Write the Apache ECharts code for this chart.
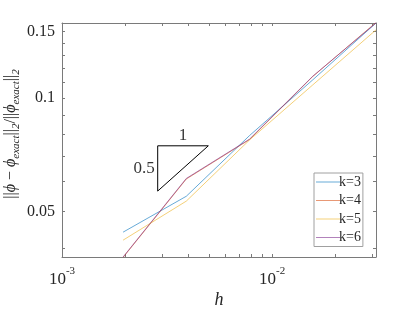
<!DOCTYPE html>
<html>
<head>
<meta charset="utf-8">
<script src="https://cdn.jsdelivr.net/npm/echarts@6/dist/echarts.min.js"></script>
<style>html,body{margin:0;padding:0;background:#fff}#c{width:415px;height:312px}</style>
</head>
<body>
<div id="c"></div>
<script>
// mesh sizes h
const h = [0.001953125, 0.00390625, 0.0078125, 0.015625, 0.03125];
// relative L2 errors for each k
const k3 = [0.0441, 0.0549, 0.0795, 0.1117, 0.158];
const k4 = [0.0378, 0.0610, 0.0776, 0.1140, 0.1585];
const k5 = [0.0420, 0.0533, 0.0774, 0.1083, 0.1515];
const k6 = [0.0379, 0.0612, 0.0778, 0.1142, 0.158];
const seriesNames = ['k=3', 'k=4', 'k=5', 'k=6'];
// tick values
const xTicks = [0.001,0.002,0.003,0.004,0.005,0.006,0.007,0.008,0.009,0.01,0.02,0.03];
const xLabels = [0.001, 0.01];
const yTicks = [0.04,0.05,0.06,0.07,0.08,0.09,0.1,0.11,0.12,0.13,0.14,0.15];
const yLabels = [0.05, 0.1, 0.15];
// slope triangle (run 1, rise 0.5)
const triX = [0.002855, 0.004973];
const triY = [0.05666, 0.07469];

const colors = ['rgba(0,114,189,0.6)','rgba(217,83,25,0.6)','rgba(237,177,32,0.6)','rgba(126,47,142,0.6)'];
const serif = '"Liberation Serif", "DejaVu Serif", serif';
const axisColor = '#7a7a7a';
const textColor = '#262626';

function pairs(ys){ return h.map((x,i)=>[x, ys[i]]); }
const sets = [k3,k4,k5,k6];

const tri = [[triX[0],triY[0]],[triX[0],triY[1]],[triX[1],triY[1]],[triX[0],triY[0]]];
const triLabels = [
  {value:[Math.sqrt(triX[0]*triX[1]), triY[1]], label:{formatter:'1', position:'top', distance:2}},
  {value:[triX[0], Math.sqrt(triY[0]*triY[1])], label:{formatter:'0.5', position:'left', distance:3}}
];

function xfmt(v){
  const e = Math.round(Math.log10(v));
  return '{b|10}{s|' + e + '}';
}

const baseX = {
  type:'log', logBase:10, min:0.001, max:0.03125,
  axisLine:{show:true, onZero:false, lineStyle:{color:axisColor, width:1}},
  splitLine:{show:false}, minorTick:{show:false}
};
const baseY = {
  type:'log', logBase:10, min:0.0379, max:0.158,
  axisLine:{show:true, onZero:false, lineStyle:{color:axisColor, width:1}},
  splitLine:{show:false}, minorTick:{show:false}
};

const option = {
  animation:false,
  backgroundColor:'#fff',
  grid:{left:62, right:39, top:23, bottom:55, containLabel:false, outerBoundsMode:'none'},
  xAxis:[
    Object.assign({}, baseX, {
      position:'bottom',
      name:'h', nameLocation:'middle', nameGap:34, nameMoveOverlap:false,
      nameTextStyle:{fontFamily:serif, fontStyle:'italic', fontSize:18, color:textColor},
      axisTick:{show:true, inside:true, length:3, customValues:xTicks, lineStyle:{color:axisColor}},
      axisLabel:{show:true, customValues:xLabels, margin:9, formatter:xfmt,
        rich:{
          b:{fontFamily:serif, fontSize:17, color:textColor, lineHeight:22, verticalAlign:'bottom'},
          s:{fontFamily:serif, fontSize:11, color:textColor, lineHeight:10, verticalAlign:'top'}
        }}
    }),
    Object.assign({}, baseX, {
      position:'top',
      axisTick:{show:true, inside:true, length:3, customValues:xTicks, lineStyle:{color:axisColor}},
      axisLabel:{show:false}
    })
  ],
  yAxis:[
    Object.assign({}, baseY, {
      position:'left',
      name:'{n|||}{i|ϕ}{n| − }{i|ϕ}{s|exact}{n|||}{s|2}{n|/||}{i|ϕ}{s|exact}{n|||}{s|2}',
      nameLocation:'middle', nameGap:40, nameRotate:90, nameMoveOverlap:false,
      nameTextStyle:{
        padding:[0,0,0,12],
        rich:{
          n:{fontFamily:serif, fontSize:16, color:textColor, lineHeight:19, verticalAlign:'top'},
          i:{fontFamily:serif, fontSize:16, fontStyle:'italic', color:textColor, lineHeight:19, verticalAlign:'top'},
          s:{fontFamily:serif, fontSize:11, fontStyle:'italic', color:textColor, lineHeight:9, verticalAlign:'bottom'}
        }
      },
      axisTick:{show:true, inside:true, length:3, customValues:yTicks, lineStyle:{color:axisColor}},
      axisLabel:{show:true, customValues:yLabels, margin:7, fontFamily:serif, fontSize:16, color:textColor,
        formatter:function(v){ return String(+v.toFixed(2)); }}
    }),
    Object.assign({}, baseY, {
      position:'right',
      axisTick:{show:true, inside:true, length:3, customValues:yTicks, lineStyle:{color:axisColor}},
      axisLabel:{show:false}
    })
  ],
  legend:{
    data:seriesNames, orient:'vertical', left:314, top:173,
    backgroundColor:'#fff', borderColor:'#a0a0a0', borderWidth:1, borderRadius:0,
    padding:[2,2,2,2], itemGap:4.5, itemWidth:24, itemHeight:14,
    textStyle:{fontFamily:serif, fontSize:14, color:textColor, padding:[0,0,0,-6]},
    icon:'path://M0,7 L24,7 L24,8 L0,8 Z'
  },
  series: sets.map((s,i)=>({
    name:seriesNames[i], type:'line', data:pairs(s), symbol:'none', showSymbol:false,
    xAxisIndex:0, yAxisIndex:0,
    lineStyle:{color:colors[i], width:1}, itemStyle:{color:colors[i]},
    clip:true
  })).concat([
    {type:'line', data:tri, symbol:'none', lineStyle:{color:'#000', width:1}, itemStyle:{color:'#000'}, silent:true},
    {type:'scatter', data:triLabels, symbolSize:0, itemStyle:{color:'#000'},
     label:{show:true, fontFamily:serif, fontSize:17, color:'#000'}}
  ])
};
const chart = echarts.init(document.getElementById('c'), null, {renderer:'canvas'});
chart.setOption(option);
</script>
</body>
</html>
